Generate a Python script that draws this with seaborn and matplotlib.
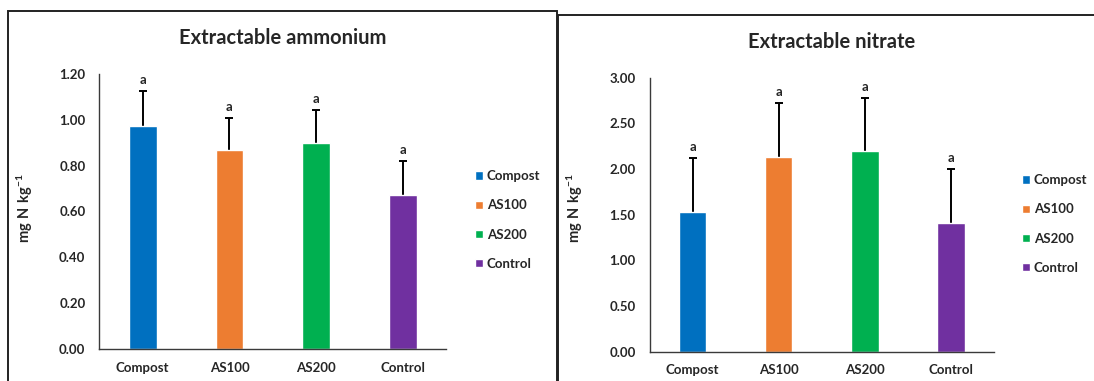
import matplotlib
matplotlib.use("Agg")
import matplotlib.pyplot as plt
from matplotlib.patches import Rectangle
import seaborn as sns
import pandas as pd

# Treatments and measured means / standard deviations (mg N kg-1)
treatments = ["Compost", "AS100", "AS200", "Control"]
ammonium_mean = [0.973, 0.867, 0.898, 0.672]
ammonium_sd = [0.153, 0.142, 0.146, 0.147]
nitrate_mean = [1.530, 2.132, 2.197, 1.409]
nitrate_sd = [0.594, 0.594, 0.577, 0.595]
letters_ammonium = ["a", "a", "a", "a"]
letters_nitrate = ["a", "a", "a", "a"]

colors = ["#0070C0", "#ED7D31", "#00B050", "#7030A0"]
palette = dict(zip(treatments, colors))

sns.set_theme(style="white")
plt.rcParams["font.family"] = ["Lato", "DejaVu Sans"]
plt.rcParams["mathtext.fontset"] = "custom"
plt.rcParams["mathtext.rm"] = "Lato"
plt.rcParams["mathtext.bf"] = "Lato:bold"

W, H = 1094, 381
fig = plt.figure(figsize=(W / 100, H / 100), dpi=100)


def px_box(x0, y_top, x1, y_bot):
    """Axes rectangle in figure fractions from pixel edges."""
    return [x0 / W, 1 - y_bot / H, (x1 - x0) / W, (y_bot - y_top) / H]


def panel(rect, means, sds, letters, ymax, ystep, title, title_xy, legend_xy, label_xy):
    ax = fig.add_axes(rect)
    df = pd.DataFrame({"treatment": treatments, "value": means})
    sns.barplot(data=df, x="treatment", y="value", hue="treatment",
                palette=palette, width=0.32, saturation=1, legend=True, ax=ax)
    for bar in ax.patches:
        bar.set_zorder(2)
    # symmetric bars drawn beneath the columns so only the upper half shows
    ax.errorbar(range(len(treatments)), means, yerr=sds, fmt="none",
                ecolor="black", elinewidth=1.4, capsize=2.8, capthick=1.4, zorder=1)
    for i, (m, s, t) in enumerate(zip(means, sds, letters)):
        ax.annotate(t, (i, m + s), xytext=(0, 5), textcoords="offset points",
                    ha="center", va="baseline", fontsize=9.5, fontweight="bold")
    ax.set_xlim(-0.5, len(treatments) - 0.5)
    ax.set_ylim(0, ymax)
    ticks = [round(k * ystep, 2) for k in range(int(round(ymax / ystep)) + 1)]
    ax.set_yticks(ticks)
    ax.set_yticklabels([f"{t:.2f}" for t in ticks])
    ax.tick_params(axis="both", length=0, labelsize=9.5)
    ax.tick_params(axis="y", pad=10)
    ax.tick_params(axis="x", pad=9)
    for lab in ax.get_xticklabels() + ax.get_yticklabels():
        lab.set_fontweight("bold")
    for side in ["top", "right"]:
        ax.spines[side].set_visible(False)
    for side in ["left", "bottom"]:
        ax.spines[side].set_color("#3a3a3a")
        ax.spines[side].set_linewidth(1.0)
        ax.spines[side].set_zorder(3)
    ax.set_xlabel("")
    ax.set_ylabel(r"$\mathbf{mg\ N\ kg^{-1}}$", fontsize=10.5)
    ax.yaxis.set_label_coords(*label_xy)
    fig.text(title_xy[0] / W, 1 - title_xy[1] / H, title, ha="center", va="center",
             fontsize=14.5, fontweight="bold")
    sns.move_legend(ax, loc="center left",
                    bbox_to_anchor=(legend_xy[0] / W, 1 - legend_xy[1] / H),
                    bbox_transform=fig.transFigure, frameon=False, title=None,
                    prop={"weight": "bold", "size": 9.5},
                    handlelength=0.6, handleheight=0.6, handletextpad=0.3,
                    labelspacing=1.3, borderpad=0, borderaxespad=0)
    return ax


panel(px_box(99.3, 74, 446.4, 349), ammonium_mean, ammonium_sd, letters_ammonium,
      1.2, 0.2, "Extractable ammonium", (283, 38), (475, 220), (-0.186, 0.513))
panel(px_box(649.5, 77.7, 994, 351.7), nitrate_mean, nitrate_sd, letters_nitrate,
      3.0, 0.5, "Extractable nitrate", (831.5, 42), (1022, 224), (-0.187, 0.524))

# Panel frames
fig.add_artist(Rectangle((8 / W, 1 - 395 / H), (557 - 8) / W, (395 - 10.5) / H,
                         transform=fig.transFigure, fill=False, lw=1.4, ec="#222222"))
fig.add_artist(Rectangle((558 / W, 1 - 395 / H), (1110 - 558) / W, (395 - 14.5) / H,
                         transform=fig.transFigure, fill=False, lw=1.4, ec="#222222"))

fig.savefig("out.png", dpi=100)
